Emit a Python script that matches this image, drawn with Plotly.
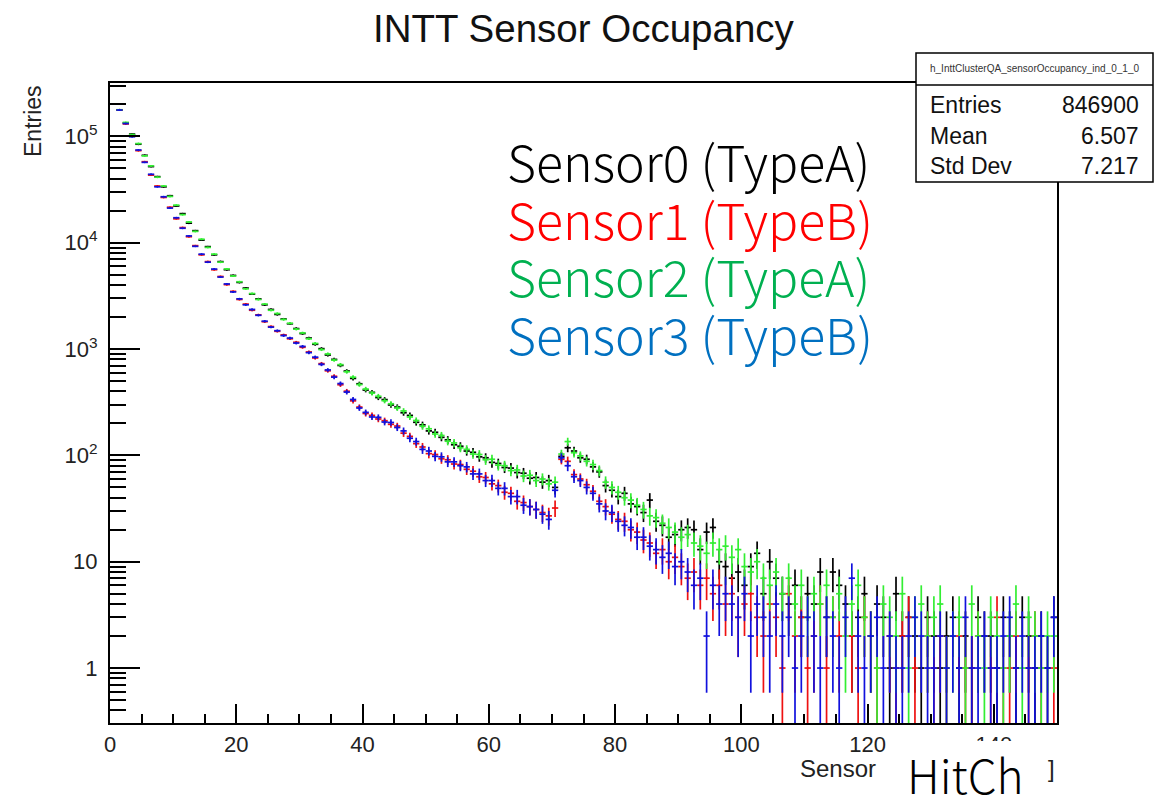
import numpy as np
import plotly.graph_objects as go

# ---------------- data (bin contents, bins of width 1 from 0 to 150) ----------------
sensor0 = [
    0, 177500, 134200, 105300, 84600, 66500, 52100, 41900, 33600, 27700,
    22200, 18800, 15300, 13000, 10600, 9200, 7700, 6650, 5580, 4930,
    4240, 3750, 3290, 2970, 2610, 2360, 2120, 1920, 1730, 1560,
    1400, 1270, 1110, 1010, 880, 800, 702, 622, 530, 472,
    412, 392, 350, 335, 298, 285, 252, 238, 205, 194,
    170, 165, 148, 140, 126, 122, 110, 107, 97, 95,
    86, 84, 77, 76, 69, 68, 61, 62, 56, 58,
    50, 98, 118, 110, 95, 92, 78, 70, 52, 47,
    41, 44, 35, 33, 29, 38, 24, 22, 17, 18,
    20, 21, 20, 13, 19, 21, 10, 9, 7, 8,
    6, 9, 12, 5, 10, 7, 5, 4, 6, 3,
    5, 4, 8, 3, 8, 6, 4, 2, 3, 5,
    2, 4, 3, 1, 5, 2, 3, 2, 1, 3,
    2, 1, 2, 3, 1, 2, 1, 3, 2, 2,
    1, 3, 2, 1, 3, 2, 1, 2, 1, 3,
]
sensor1 = [
    0, 178100, 131200, 100600, 73600, 57900, 43300, 34200, 26700, 21600,
    16800, 13900, 11400, 9400, 7700, 6650, 5580, 4820, 4040, 3490,
    2930, 2650, 2320, 2100, 1810, 1630, 1470, 1360, 1250, 1160,
    1040, 940, 825, 730, 625, 555, 462, 402, 326, 285,
    248, 238, 220, 212, 196, 189, 162, 151, 129, 120,
    104, 102, 93, 91, 83, 82, 74, 71, 63, 62,
    54, 52, 45, 44, 37, 36, 33, 31, 29, 27,
    32, 92, 88, 66, 60, 53, 46, 37, 33, 28,
    25, 24, 20, 19, 16, 15, 12, 13, 10, 11,
    9, 7, 8, 6, 7, 5, 6, 4, 5, 3,
    4, 5, 3, 2, 4, 3, 1, 5, 2, 3,
    1, 2, 4, 1, 3, 2, 0, 2, 1, 3,
    2, 1, 0, 2, 1, 2, 3, 1, 0, 2,
    1, 2, 1, 0, 2, 1, 1, 2, 0, 1,
    3, 1, 1, 2, 0, 1, 2, 1, 0, 1,
]
sensor2 = [
    0, 178300, 135600, 104100, 85700, 65700, 52900, 41400, 34200, 27300,
    22600, 18400, 15700, 12800, 10800, 9050, 7820, 6570, 5670, 4870,
    4300, 3690, 3330, 2930, 2650, 2320, 2160, 1900, 1750, 1540,
    1420, 1250, 1130, 990, 900, 788, 714, 612, 544, 464,
    421, 386, 360, 327, 306, 279, 262, 230, 213, 188,
    178, 159, 154, 136, 131, 118, 114, 103, 102, 91,
    92, 81, 80, 72, 73, 64, 65, 58, 60, 54,
    56, 103, 135, 106, 99, 88, 82, 72, 56, 50,
    45, 40, 38, 34, 31, 27, 26, 23, 21, 19,
    17, 18, 15, 14, 12, 15, 13, 14, 11, 13,
    9, 8, 10, 7, 6, 8, 5, 7, 4, 6,
    3, 5, 4, 6, 3, 5, 2, 4, 6, 3,
    2, 1, 4, 3, 2, 5, 1, 3, 4, 2,
    3, 4, 1, 2, 3, 1, 4, 2, 1, 3,
    2, 1, 2, 4, 1, 3, 2, 1, 2, 2,
]
sensor3 = [
    0, 177400, 132400, 99400, 74600, 57100, 44100, 33600, 27100, 21200,
    17200, 13700, 11600, 9260, 7820, 6570, 5660, 4760, 4100, 3450,
    2970, 2610, 2360, 2080, 1830, 1610, 1490, 1340, 1270, 1140,
    1060, 926, 840, 718, 637, 545, 474, 394, 336, 279,
    254, 230, 228, 206, 204, 183, 170, 145, 135, 114,
    110, 98, 97, 87, 87, 80, 78, 67, 67, 58,
    58, 49, 49, 41, 41, 34, 33, 31, 28, 25,
    47, 95, 80, 63, 58, 50, 44, 35, 30, 29,
    24, 22, 21, 17, 17, 14, 13, 11, 12, 9,
    10, 8, 6, 7, 2, 6, 4, 5, 4, 3,
    5, 2, 4, 3, 2, 4, 2, 3, 1, 2,
    3, 2, 1, 3, 2, 1, 3, 7, 2, 1,
    2, 3, 1, 2, 1, 1, 2, 3, 2, 1,
    1, 2, 1, 2, 1, 3, 1, 1, 2, 1,
    1, 2, 3, 1, 2, 1, 1, 2, 1, 3,
]

series_names = ["Sensor0 (TypeA)", "Sensor1 (TypeB)", "Sensor2 (TypeA)", "Sensor3 (TypeB)"]
series_data = [sensor0, sensor1, sensor2, sensor3]
hist_colors = ["#000000", "#ee1111", "#33ee33", "#1111dd"]
label_colors = ["#000000", "#ff0000", "#00b050", "#0070c0"]

x_ticks = [0, 20, 40, 60, 80, 100, 120, 140]
y_ticks = [1, 10, 100, 1000, 10000, 100000]
y_ticklabels = ["1", "10", "10<sup>2</sup>", "10<sup>3</sup>", "10<sup>4</sup>", "10<sup>5</sup>"]

stats_name = "h_InttClusterQA_sensorOccupancy_ind_0_1_0"
stats_rows = [("Entries", "846900"), ("Mean", "6.507"), ("Std Dev", "7.217")]

# ---------------- geometry helpers (pixel -> paper) ----------------
W, H = 1168, 797
L, R, T, B = 110, 1057, 83, 723


def px(x):
    return (x - L) / (R - L)


def py(y):
    return (B - y) / (B - T)


fig = go.Figure()
for name, vals, col in zip(series_names, series_data, hist_colors):
    v = np.array(vals, dtype=float)
    centers = np.arange(len(v)) + 0.5
    yv = np.where(v > 0, v, np.nan)
    err = np.sqrt(v)
    fig.add_trace(go.Scatter(
        x=centers, y=yv, mode="markers", name=name,
        marker=dict(size=2, color=col),
        error_x=dict(type="constant", value=0.5, width=0, thickness=1.7, color=col),
        error_y=dict(type="data", array=err, width=0, thickness=1.7, color=col),
        showlegend=False, cliponaxis=True,
    ))

minor_y = [m * 10 ** k for k in range(-1, 6) for m in range(2, 10)]
minor_y = [v for v in minor_y if 0.3 < v < 3.3e5]

tickfont = dict(family="Liberation Sans, Arial, sans-serif", size=22, color="#222")

fig.update_layout(
    width=W, height=H, autosize=False,
    margin=dict(l=L, r=W - R, t=T, b=H - B, pad=0),
    paper_bgcolor="white", plot_bgcolor="white",
    showlegend=False,
    xaxis=dict(
        range=[0, 150], showgrid=False, zeroline=False,
        showline=True, linecolor="black", linewidth=2, mirror=True,
        ticks="inside", ticklen=19, tickwidth=1.5, tickcolor="black",
        tickvals=x_ticks, ticktext=[str(v) for v in x_ticks],
        tickfont=tickfont, ticklabelstandoff=1,
        minor=dict(ticks="inside", ticklen=9, tickwidth=1.5, tickcolor="black", dtick=5, showgrid=False),
    ),
    yaxis=dict(
        type="log", range=[-0.517, 5.503], showgrid=False, zeroline=False,
        showline=True, linecolor="black", linewidth=2, mirror=True,
        ticks="inside", ticklen=30, tickwidth=1.5, tickcolor="black",
        tickvals=y_ticks, ticktext=y_ticklabels,
        tickfont=tickfont, ticklabelstandoff=6,
        minor=dict(ticks="inside", ticklen=16, tickwidth=1.5, tickcolor="black",
                   tickmode="array", tickvals=minor_y, showgrid=False),
    ),
)

ann = []
# title
ann.append(dict(text="INTT Sensor Occupancy", x=px(584), y=py(29), xref="paper", yref="paper",
                xanchor="center", yanchor="middle", showarrow=False,
                font=dict(family="Liberation Sans, Arial, sans-serif", size=38.5, color="#111")))
# y axis title
ann.append(dict(text="Entries", x=px(33), y=py(121), xref="paper", yref="paper",
                xanchor="center", yanchor="middle", showarrow=False, textangle=-90,
                font=dict(family="Liberation Sans, Arial, sans-serif", size=23, color="#222")))
# x axis title remnants
ann.append(dict(text="Sensor", x=px(878), y=py(768), xref="paper", yref="paper",
                xanchor="right", yanchor="middle", showarrow=False,
                font=dict(family="Liberation Sans, Arial, sans-serif", size=24, color="#222")))
ann.append(dict(text="]", x=px(1057), y=py(768), xref="paper", yref="paper",
                xanchor="right", yanchor="middle", showarrow=False,
                font=dict(family="Liberation Sans, Arial, sans-serif", size=24, color="#222")))

# legend-like labels
for i, (name, col) in enumerate(zip(series_names, label_colors)):
    ann.append(dict(text=name, x=px(505), y=py(160 + 57.7 * i), xref="paper", yref="paper",
                    xanchor="left", yanchor="middle", showarrow=False,
                    font=dict(family="Noto Sans CJK JP, Noto Sans, sans-serif", size=50,
                              weight=300, color=col)))

shapes = []
# stats box
shapes.append(dict(type="rect", xref="paper", yref="paper", x0=px(916), x1=px(1153), y0=py(182), y1=py(53),
                   line=dict(color="black", width=1.5), fillcolor="white", layer="above"))
shapes.append(dict(type="line", xref="paper", yref="paper", x0=px(916), x1=px(1153), y0=py(85), y1=py(85),
                   line=dict(color="black", width=1.5), layer="above"))
ann.append(dict(text=stats_name, x=px(1034.5), y=py(69), xref="paper", yref="paper",
                xanchor="center", yanchor="middle", showarrow=False,
                font=dict(family="Liberation Sans, Arial, sans-serif", size=10, color="#333")))
for j, (k, v) in enumerate(stats_rows):
    yy = py(105 + 30.5 * j)
    ann.append(dict(text=k, x=px(928), y=yy, xref="paper", yref="paper", xanchor="left", yanchor="middle",
                    showarrow=False, font=dict(family="Liberation Sans, Arial, sans-serif", size=23, color="#111")))
    ann.append(dict(text=v, x=px(1141), y=yy, xref="paper", yref="paper", xanchor="right", yanchor="middle",
                    showarrow=False, font=dict(family="Liberation Sans, Arial, sans-serif", size=23, color="#111")))

# white patch with overlaid "HitCh"
shapes.append(dict(type="rect", xref="paper", yref="paper", x0=px(893), x1=px(1045), y0=py(800), y1=py(741),
                   line=dict(width=0), fillcolor="white", layer="above"))
ann.append(dict(text="HitCh", x=px(905), y=py(774), xref="paper", yref="paper",
                xanchor="left", yanchor="middle", showarrow=False,
                font=dict(family="Noto Sans CJK JP, Noto Sans, sans-serif", size=46, weight=300, color="#000")))

fig.update_layout(annotations=ann, shapes=shapes)
fig.write_html("out.html")
